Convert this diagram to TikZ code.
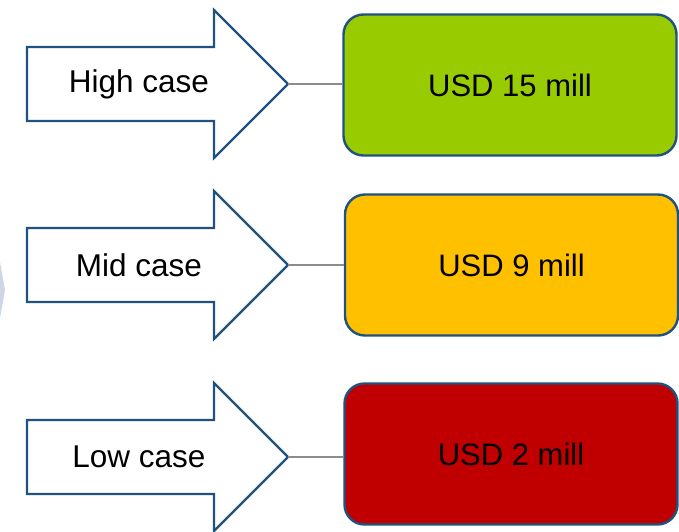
\documentclass[tikz,border=0pt]{standalone}
\usepackage{fontspec}
\setmainfont{Liberation Sans}
\definecolor{bordercol}{HTML}{1F527E}
\definecolor{greenfill}{HTML}{99CC00}
\definecolor{amberfill}{HTML}{FFC000}
\definecolor{redfill}{HTML}{C00000}
\definecolor{faint}{HTML}{CDD6E4}
\begin{document}
\begin{tikzpicture}[x=1pt,y=-1pt,
  arrowshape/.style={draw=bordercol, line width=2.2pt, fill=white, line join=miter},
  lbl/.style={font=\fontsize{31.5}{34}\selectfont, text=black, inner sep=0pt},
  valbox/.style={draw=bordercol, line width=2.4pt, rounded corners=20pt, minimum width=333pt, minimum height=141pt, font=\fontsize{31}{34}\selectfont, text=black},
  conn/.style={draw=gray!90, line width=1.3pt}]
\useasboundingbox (0,0) rectangle (679,531);
\fill[faint] (0,262) -- (5,290) -- (0,318) -- cycle;
% High
\draw[arrowshape] (27,47) -- (214,47) -- (214,10) -- (288,84) -- (214,158) -- (214,121) -- (27,121) -- cycle;
\coordinate (tipH) at (288,84);
\node[lbl] (lblH) at (139,84) {High case};
\node[valbox, fill=greenfill] (boxH) at (510,85) {USD 15 mill};
\draw[conn] (tipH) -- (tipH -| boxH.west);
% Mid
\draw[arrowshape] (27,228) -- (214,228) -- (214,191) -- (288,265) -- (214,339) -- (214,302) -- (27,302) -- cycle;
\coordinate (tipM) at (288,265);
\node[lbl] (lblM) at (139,265) {Mid case};
\node[valbox, fill=amberfill] (boxM) at (511.5,265) {USD 9 mill};
\draw[conn] (tipM) -- (tipM -| boxM.west);
% Low
\draw[arrowshape] (27,420) -- (214,420) -- (214,383) -- (288,457) -- (214,531) -- (214,494) -- (27,494) -- cycle;
\coordinate (tipL) at (288,457);
\node[lbl] (lblL) at (139,457) {Low case};
\node[valbox, fill=redfill] (boxL) at (511,454) {USD 2 mill};
\draw[conn] (tipL) -- (tipL -| boxL.west);
\end{tikzpicture}
\end{document}
